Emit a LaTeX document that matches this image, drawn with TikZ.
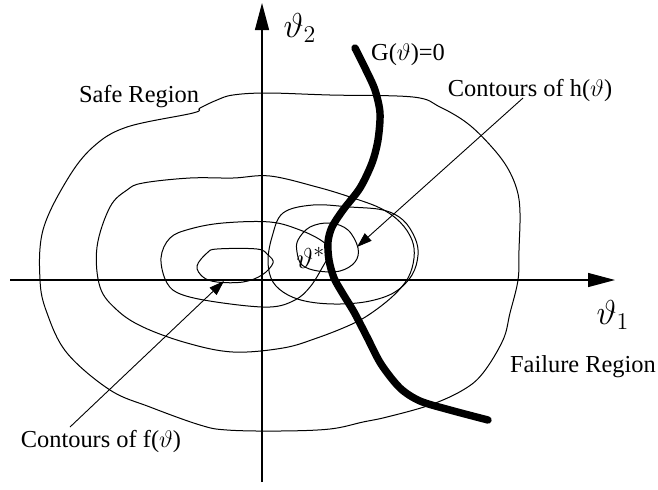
\documentclass[tikz,border=0pt]{standalone}
\usepackage{fontspec}
\setmainfont{Liberation Serif}
\usetikzlibrary{arrows.meta}

\begin{document}
\begin{tikzpicture}[x=0.5pt, y=-0.5pt,
    contour/.style={line width=0.5pt},
    axis/.style={line width=0.65pt, -{Triangle[length=13.5pt,width=7pt]}},
    limit/.style={line width=3.7pt, line cap=round},
    leader/.style={line width=0.45pt, -{Triangle[length=7.5pt,width=5pt]}},
    lbl/.style={inner sep=0pt, font=\fontsize{12.2}{14}\selectfont},
    var/.style={inner sep=0pt, font=\fontsize{17}{20}\selectfont}
]
    \useasboundingbox (0,0) rectangle (658,489);

    % axes
    \coordinate (xs) at (10,280);
    \coordinate (xe) at (615,280);
    \coordinate (ys) at (262,482);
    \coordinate (ye) at (262,3);
    \draw[axis] (xs) -- (xe);
    \draw[axis] (ys) -- (ye);
    \node[var] (t1) at (613,315) {$\vartheta_1$};
    \node[var] (t2) at (300,28) {$\vartheta_2$};

    % contours of f
    \draw[contour] plot[smooth cycle, tension=0.6] coordinates {(200,108) (217,100) (233,95) (267,93) (330,95) (413,97) (440,107) (467,123) (490,145) (507,167) (517,190) (520,213) (519,250) (518,280) (510,313) (503,340) (483,373) (463,390) (430,405) (387,417) (363,422) (330,429) (280,431) (227,430) (200,425) (150,407) (110,390) (67,353) (47,313) (40,280) (43,230) (67,180) (93,147) (127,127) (193,113)};
    \draw[contour] plot[smooth cycle, tension=0.6] coordinates {(97,247) (110,207) (127,190) (143,183) (190,178) (233,178) (270,176) (317,187) (350,197) (380,208) (400,222) (412,240) (414,258) (408,278) (393,296) (370,314) (350,325) (317,338) (283,348) (233,352) (187,343) (143,327) (117,310) (100,287)};
    \draw[contour] plot[smooth cycle, tension=0.6] coordinates {(161,258) (170,238) (190,229) (223,223) (270,222) (300,230) (322,241) (330,251) (322,268) (310,287) (295,300) (270,307) (223,303) (183,295) (167,283)};
    \draw[contour] plot[smooth cycle, tension=0.6] coordinates {(197,266) (207,253) (217,249) (257,249) (268,255) (273,263) (262,275) (243,282) (217,282) (203,277)};

    % contours of h
    \draw[contour] plot[smooth cycle, tension=0.6] coordinates {(283,213) (313,205) (350,207) (383,210) (403,220) (415,238) (418,255) (412,275) (395,292) (370,301) (340,304) (310,302) (288,295) (273,282) (268,262) (272,237)};
    \draw[contour] plot[smooth cycle, tension=0.6] coordinates {(298,240) (310,227) (330,223) (348,230) (358,248) (355,262) (340,271) (318,271) (302,265) (297,252)};
    \node[var, font=\fontsize{15}{18}\selectfont] (opt) at (311,258) {$\vartheta^{*}$};

    % limit state
    \draw[limit] plot[smooth] coordinates {(355,48) (366,70) (375,90) (380,113) (378,140) (372,163) (360,188) (343,210) (332,227) (328,242) (329,260) (334,278) (343,294) (354,312) (367,337) (381,364) (400,388) (420,401) (450,410) (488,420)};

    % labels
    \node[lbl] (glab) at (408,55) {G($\vartheta$)=0};
    \node[lbl] (hlab) at (530,90) {Contours of h($\vartheta$)};
    \node[lbl] (safe) at (139,97) {Safe Region};
    \node[lbl] (fail) at (583,367) {Failure Region};
    \node[lbl] (flab) at (101,441) {Contours of f($\vartheta$)};

    \coordinate (htail) at (523,98);
    \coordinate (htip) at (357,247);
    \coordinate (ftail) at (70,427);
    \coordinate (ftip) at (224,281);
    \draw[leader] (htail) -- (htip);
    \draw[leader] (ftail) -- (ftip);
\end{tikzpicture}
\end{document}
